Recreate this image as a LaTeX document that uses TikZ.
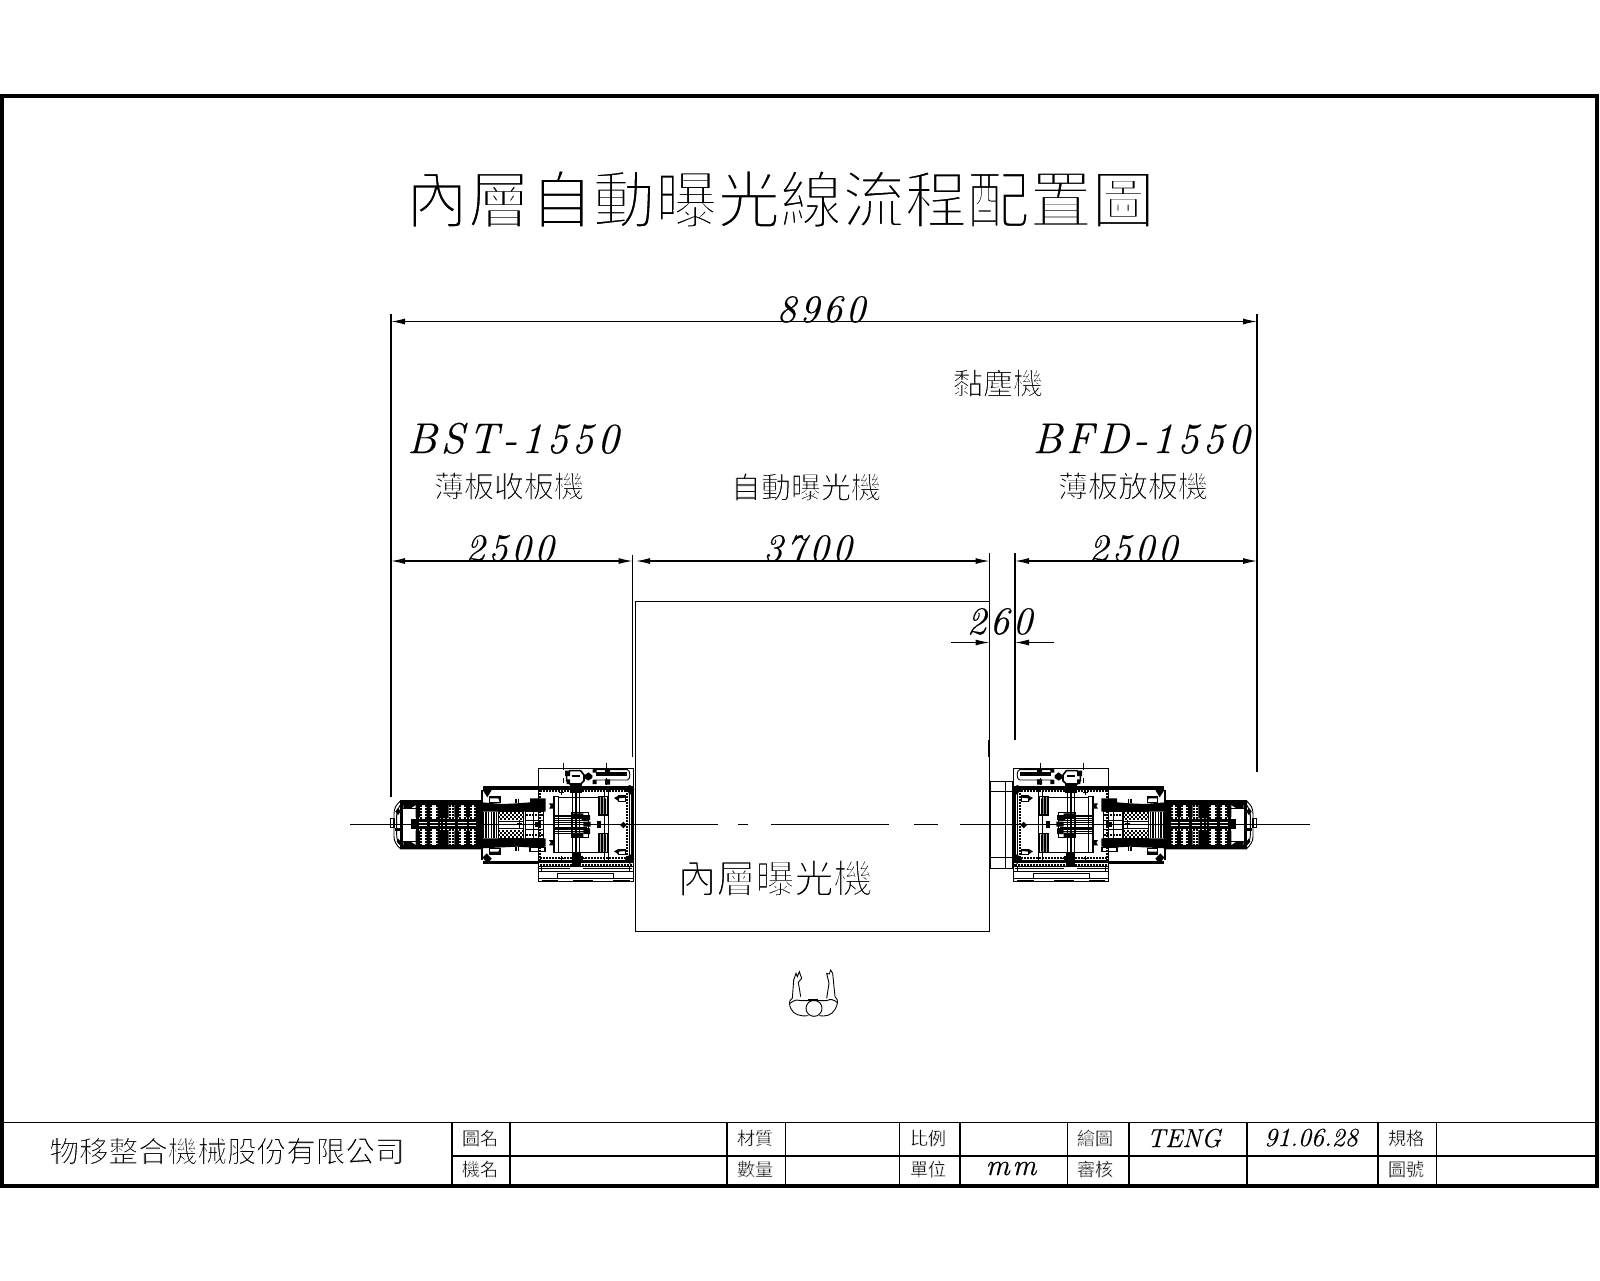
\documentclass[tikz,border=0pt]{standalone}
\usepackage{fontspec}
\usetikzlibrary{arrows.meta}
\newfontfamily\cjkfont{Noto Sans CJK TC}
\newfontfamily\ltnfont[LetterSpace=9,ItalicFeatures={FakeBold=0.3}]{Latin Modern Roman}
\newfontfamily\ltnplain[ItalicFeatures={FakeBold=0.3}]{Latin Modern Roman}
% #1 size in pt, #2 white-stroke width in pt (thins the glyphs), #3 text
\newcommand{\cjt}[3]{{\fontsize{#1pt}{#1pt}\selectfont\cjkfont\special{pdf:code 2 Tr #2 w 1 1 1 RG}#3\special{pdf:code 0 Tr 0 0 0 RG}}}
\newcommand{\ltn}[2]{{\fontsize{#1pt}{#1pt}\selectfont\ltnfont\itshape #2}}
\newcommand{\lpl}[2]{{\fontsize{#1pt}{#1pt}\selectfont\ltnplain\itshape #2}}
\tikzset{
  lab/.style={inner sep=0pt,anchor=center},
  bas/.style={inner sep=0pt,anchor=base},
  frameln/.style={line width=1.8pt,black},
  tabln/.style={line width=0.6pt,black},
  dimln/.style={line width=0.55pt,black},
  extln/.style={line width=0.55pt,black},
  dimarrow/.style={dimln,{Latex[length=7pt,width=3pt]}-{Latex[length=7pt,width=3pt]}},
  mthin/.style={line width=0.45pt,black},
  mmid/.style={line width=0.8pt,black},
  mthick/.style={line width=1.7pt,black},
  mdot/.style={line width=0.9pt,black,dash pattern=on 0.9pt off 0.6pt},
}
\newcommand{\machine}{%
  % ---- main section outline
  \draw[mthin] (505,85) rectangle (790,425);
  \draw[mthin] (505,380) -- (790,380) (505,395) -- (790,395) (505,415) -- (790,415);
  \draw[mmid] (515,422) -- (563,422) (610,422) -- (670,422) (730,422) -- (780,422);
  \draw[mthin] (563,400) rectangle (730,415);
  \draw[mdot] (510,374) -- (790,374);
  \draw[mthin] (640,385) -- (787,385) (510,385) -- (600,385);
  % ---- motor head
  \draw[mmid] (600,92) -- (632,92) -- (642,105) -- (642,122) -- (632,132) -- (600,132) -- (590,122) -- (590,102) -- cycle;
  \fill (607,106) rectangle (630,112);
  \fill (585,92) rectangle (600,108) (590,118) rectangle (600,132);
  \fill (643,106) -- (655,97) -- (667,106) -- (667,114) -- (655,122) -- (643,114) -- cycle;
  \draw[mthin] (670,89) -- (772,89) .. controls (782,89) and (782,120) .. (772,120) -- (670,120);
  \draw[mthick] (678,102) -- (770,102);
  \draw[mmid] (580,70) -- (580,90) (580,115) -- (580,130) (710,70) -- (710,100) (710,115) -- (710,135);
  \fill (668,88) rectangle (680,98) (668,120) rectangle (680,132) (705,90) rectangle (720,100) (705,118) rectangle (720,134);
  \fill (600,130) rectangle (637,160);
  % ---- main frame
  \draw[mthick] (505,144) -- (790,144) (505,364) -- (790,364);
  \draw[mdot] (510,153) -- (775,153) (510,355) -- (775,355);
  \draw[mthick] (787,142) -- (787,366);
  \draw[mdot] (770,150) -- (770,360);
  \draw[mthin] (779,150) -- (779,360);
  \draw[mdot] (509,150) -- (509,360);
  \draw[mthin] (703,144) -- (703,364) (716,144) -- (716,364);
  % ---- rails
  \draw[mmid] (608,150) -- (608,355) (618,150) -- (618,355) (628,150) -- (628,355);
  \fill (605,340) rectangle (632,382);
  % ---- side bars
  \draw[mmid] (550,170) rectangle (565,337);
  \fill (550,170) rectangle (556,337);
  \fill (537,190) -- (550,190) -- (550,206) -- (537,206) -- (542,198) -- cycle;
  \fill (537,300) -- (550,300) -- (550,316) -- (537,316) -- (542,308) -- cycle;
  \draw[mmid] (687,170) rectangle (713,225) (687,280) rectangle (713,338);
  \fill (692,170) rectangle (700,225) (692,280) rectangle (700,338);
  \fill (702,175) rectangle (708,222) (702,283) rectangle (708,335);
  \draw[mthin] (565,172) -- (687,172) (565,337) -- (687,337);
  % ---- central clamp
  \draw[mmid] (555,228) -- (640,228) (555,241) -- (655,241) (555,254) -- (655,254) (555,267) -- (655,267) (555,280) -- (640,280);
  \draw[mthin] (555,234) -- (650,234) (555,248) -- (650,248) (555,261) -- (650,261) (555,274) -- (650,274);
  \draw[mthin] (605,218) rectangle (655,292);
  \fill (635,225) rectangle (660,240) (640,245) rectangle (662,260) (640,265) rectangle (660,282);
  \fill (607,220) rectangle (640,235) (607,278) rectangle (640,292);
  \draw[mthin] (565,253) -- (780,253);
  \fill (682,243) rectangle (692,263);
  % ---- corners, pills, crosses
  \fill (765,142) -- (780,135) -- (793,148) -- (780,165) -- cycle;
  \fill (765,358) -- (780,342) -- (793,356) -- (780,372) -- cycle;
  \fill (750,255) -- (760,245) -- (770,255) -- (760,265) -- cycle;
  \fill (732,174) -- (745,167) -- (765,167) -- (765,173) -- (745,175) -- (745,183) -- cycle;
  \draw[mthin] (745,167) rectangle (767,183);
  \fill (732,334) -- (745,327) -- (765,327) -- (765,333) -- (745,335) -- (745,343) -- cycle;
  \draw[mthin] (745,327) rectangle (767,343);
  \draw[mmid] (567,157) -- (583,157) (575,149) -- (575,165) (567,355) -- (583,355) (575,347) -- (575,362)
              (628,355) -- (644,355) (636,347) -- (636,362)
              (508,385) -- (522,385) (515,378) -- (515,392) (771,385) -- (786,385) (778,378) -- (778,392);
  % ---- centre section
  \draw[mthick] (340,144) -- (505,144) (340,368) -- (505,368);
  \draw[mmid] (336,150) -- (336,360);
  \fill (335,187) -- (400,192) -- (440,190) -- (480,187) -- (480,175) -- (527,175) -- (527,215) -- (335,215) -- cycle;
  \fill (335,295) -- (480,295) -- (527,295) -- (527,320) -- (480,322) -- (440,320) -- (400,322) -- (335,325) -- cycle;
  \draw[mmid] (480,322) rectangle (525,335);
  \fill (338,150) -- (350,138) -- (365,150) -- (352,172) -- cycle;
  \fill (338,352) -- (350,340) -- (365,356) -- (352,372) -- cycle;
  \fill (358,168) -- (390,168) -- (390,188) -- (385,175) -- (358,175) -- cycle;
  \fill (358,342) -- (390,342) -- (390,325) -- (385,335) -- (358,335) -- cycle;
  \draw[mthin] (358,168) rectangle (390,186) (358,326) rectangle (390,342);
  \draw[mmid] (438,176) -- (438,190) (446,176) -- (446,190) (438,320) -- (438,332) (446,320) -- (446,332);
  \foreach \xx in {340,348,356,364,372,380} {\draw[mmid] (\xx,215) -- (\xx,295);}
  \draw[mthin] (335,252) -- (520,252) (385,215) rectangle (460,295) (385,244) -- (460,244) (385,266) -- (460,266);
  \draw[mmid] (448,240) -- (448,268) (440,250) -- (456,250);
  \draw[mthin] (465,215) rectangle (520,295) (490,215) -- (490,295) (465,240) -- (520,240) (465,268) -- (520,268) (505,215) -- (505,295);
  \draw[mdot] (468,225) -- (518,225) (468,285) -- (518,285);
  \fill (496,245) rectangle (512,262);
  % ---- checker bands
  \foreach \cx in {0,1,...,12}{\foreach \cy in {0,1,2,3}{
    \pgfmathtruncatemacro\cpar{mod(\cx+\cy,2)}
    \ifnum\cpar=0
      \fill (385+6*\cx,216+6*\cy) rectangle ++(4.5,4.5);
      \fill (385+6*\cx,271+6*\cy) rectangle ++(4.5,4.5);
    \fi}}
  % ---- feed section
  \fill (90,180) rectangle (335,195) (90,315) rectangle (335,328);
  \fill (90,180) rectangle (99,328);
  \fill (100,195) -- (137,195) -- (122,205) -- (100,205) -- cycle;
  \fill (100,315) -- (137,315) -- (122,305) -- (100,305) -- cycle;
  \foreach \xa/\xb in {137/150,170/181,253/267,288/300,317/335}{
    \fill (\xa,190) rectangle (\xb,232) (\xa,272) rectangle (\xb,318);
    \fill (\xa+2,232) rectangle (\xb-2,272);
  }
  \fill (203,190) rectangle (236,235) (203,270) rectangle (236,318);
  \foreach \xa in {205,214,225}{\fill (\xa,232) rectangle ++(6,40);}
  \foreach \xx in {153,167,184,200,239,250,270,285,303,314}{\draw[mdot] (\xx,195) -- (\xx,315);}
  \draw[mthick] (122,241) -- (330,241);
  \draw[mmid] (122,252) -- (330,252);
  \draw[mthick] (122,263) -- (330,263);
  \fill (122,244) rectangle (142,262);
  \draw[mmid] (100,205) -- (137,205) (100,305) -- (137,305);
  % ---- rear end
  \draw[mthin] (90,184) .. controls (78,195) and (72,205) .. (72,222) -- (72,290) .. controls (72,305) and (80,315) .. (90,325);
  \draw[mthin] (90,196) .. controls (84,205) and (80,215) .. (80,225) -- (80,285) .. controls (80,298) and (85,308) .. (90,314);
  \draw[mmid] (62,235) rectangle (72,262);
  \fill (76,265) rectangle (100,273);
  \fill (76,214) -- (84,204) -- (92,214) -- (84,226) -- cycle;
  \fill (84,295) -- (92,305) -- (88,313) -- (80,305) -- cycle;
}
\begin{document}
\begin{tikzpicture}[x=0.5pt,y=-0.5pt]
\useasboundingbox (0,0) rectangle (1600,1280);
\fill[white] (0,0) rectangle (1600,1280);
% frame
\draw[frameln] (2,96) rectangle (1597,1186);
% title block
\draw[tabln] (2,1122.5) -- (1597,1122.5);
\draw[tabln] (452,1156) -- (1597,1156);
\foreach \tx in {452,510,727,785.7,899.6,960,1067.7,1129,1247,1378,1436.5}{\draw[tabln] (\tx,1122.5) -- (\tx,1186);}
% exposure unit
\draw[mthin] (635,601) rectangle (989,931);
% dimension end points
\coordinate (eL) at (391,561);
\coordinate (eA) at (632.5,561);
\coordinate (eA2) at (636,561);
\coordinate (eB) at (989.5,561);
\coordinate (eC) at (1015,561);
\coordinate (eD) at (1257,561);
\coordinate (tL) at (391,321.5);
\coordinate (tR) at (1257,321.5);
% extension lines
\draw[extln] (391,314) -- (391,797);
\draw[extln] (1257,314) -- (1257,772);
\draw[extln] (632.5,555) -- (632.5,756);
\draw[extln] (989.5,553) -- (989.5,756);
\draw[extln] (1015,553) -- (1015,740);
\draw[mmid] (632.5,740) -- (632.5,757) (988.5,740) -- (988.5,757);
% dimensions
\draw[dimarrow] (tL) -- (tR);
\draw[dimarrow] (eL) -- (eA);
\draw[dimarrow] (eA2) -- (eB);
\draw[dimarrow] (eC) -- (eD);
\coordinate (sA) at (951,642.5);
\coordinate (sB) at (989.5,642.5);
\coordinate (sC) at (1015,642.5);
\coordinate (sD) at (1054,642.5);
\draw[dimln,-{Latex[length=7pt,width=3pt]}] (sA) -- (sB);
\draw[dimln,-{Latex[length=7pt,width=3pt]}] (sD) -- (sC);
% machines
\begin{scope}[shift={(370,740)},x=0.16667pt,y=-0.16667pt]\machine\end{scope}
\begin{scope}[shift={(1277,740)},xscale=-1,x=0.16667pt,y=-0.16667pt]\machine\end{scope}
% attachment on right machine
\draw[mthin] (990.5,781.5) rectangle (1012.5,868);
\draw[mthin] (990.5,791.5) -- (1012.5,791.5) (990.5,857) -- (1012.5,857) (1005,781.5) -- (1005,868);
% centre line
\draw[mthin] (350,824.5) -- (718,824.5) (738,824.5) -- (748,824.5) (771,824.5) -- (889,824.5) (914,824.5) -- (938,824.5) (960,824.5) -- (1310,824.5);
% operator
\begin{scope}[shift={(760,950)},x=0.16667pt,y=-0.16667pt]
  \draw[mthin] (97,145) -- (101,90) -- (108,70) -- (112,80) -- (118,65) -- (125,85) -- (115,97) -- (122,140);
  \draw[mthin] (225,140) -- (218,70) -- (212,60) -- (208,72) -- (200,70) -- (207,100) -- (200,145);
  \draw[mthin] (97,145) .. controls (85,150) and (88,165) .. (92,175) .. controls (100,195) and (125,200) .. (145,197);
  \draw[mthin] (225,140) .. controls (238,150) and (232,165) .. (225,178) .. controls (215,197) and (195,200) .. (178,197);
  \draw[mthin] (90,160) .. controls (105,148) and (115,148) .. (125,152) -- (200,152) .. controls (210,146) and (222,148) .. (232,158);
  \draw[mthin] (162,175) circle (24);
  \draw[mmid] (145,150) -- (175,150);
\end{scope}
% CJK texts
\node[lab] (title) at (780,199) {\cjt{31.2}{1.1}{內層自動曝光線流程配置圖}};
\node[lab] (gluer) at (998,383) {\cjt{15}{0.45}{黏塵機}};
\node[lab] (stacker) at (509,486) {\cjt{15}{0.45}{薄板收板機}};
\node[lab] (expo) at (806,487) {\cjt{15}{0.45}{自動曝光機}};
\node[lab] (feeder) at (1133,486) {\cjt{15}{0.45}{薄板放板機}};
\node[lab] (inner) at (775,878) {\cjt{19.5}{0.65}{內層曝光機}};
\node[lab] (company) at (227,1151) {\cjt{14.8}{0.45}{物移整合機械股份有限公司}};
\node[lab] (t1) at (480,1138) {\cjt{9}{0.16}{圖名}};
\node[lab] (t2) at (480,1169) {\cjt{9}{0.16}{機名}};
\node[lab] (t3) at (755,1138) {\cjt{9}{0.16}{材質}};
\node[lab] (t4) at (755,1169) {\cjt{9}{0.16}{數量}};
\node[lab] (t5) at (928,1138) {\cjt{9}{0.16}{比例}};
\node[lab] (t6) at (928,1169) {\cjt{9}{0.16}{單位}};
\node[lab] (t7) at (1095,1138) {\cjt{9}{0.16}{繪圖}};
\node[lab] (t8) at (1095,1169) {\cjt{9}{0.16}{審核}};
\node[lab] (t9) at (1406,1138) {\cjt{9}{0.16}{規格}};
\node[lab] (t10) at (1406,1169) {\cjt{9}{0.16}{圖號}};
% Latin texts
\node[bas] (d8960) at (821,322) {\ltn{19.5}{8960}};
\node[bas] (bst) at (513,453) {\ltn{21.5}{BST-1550}};
\node[bas] (bfd) at (1141,453) {\ltn{21.5}{BFD-1550}};
\node[bas] (d2500a) at (509.5,561) {\ltn{19.5}{2500}};
\node[bas] (d3700) at (807.5,561) {\ltn{19.5}{3700}};
\node[bas] (d2500b) at (1133,561) {\ltn{19.5}{2500}};
\node[bas] (d260) at (999.5,634) {\ltn{19.5}{260}};
\node[bas] (teng) at (1184,1147) {\lpl{13}{TENG}};
\node[bas] (date) at (1311,1146) {\lpl{13}{91.06.28}};
\node[bas] (mm) at (1011,1175) {\ltn{15}{mm}};
\end{tikzpicture}
\end{document}
